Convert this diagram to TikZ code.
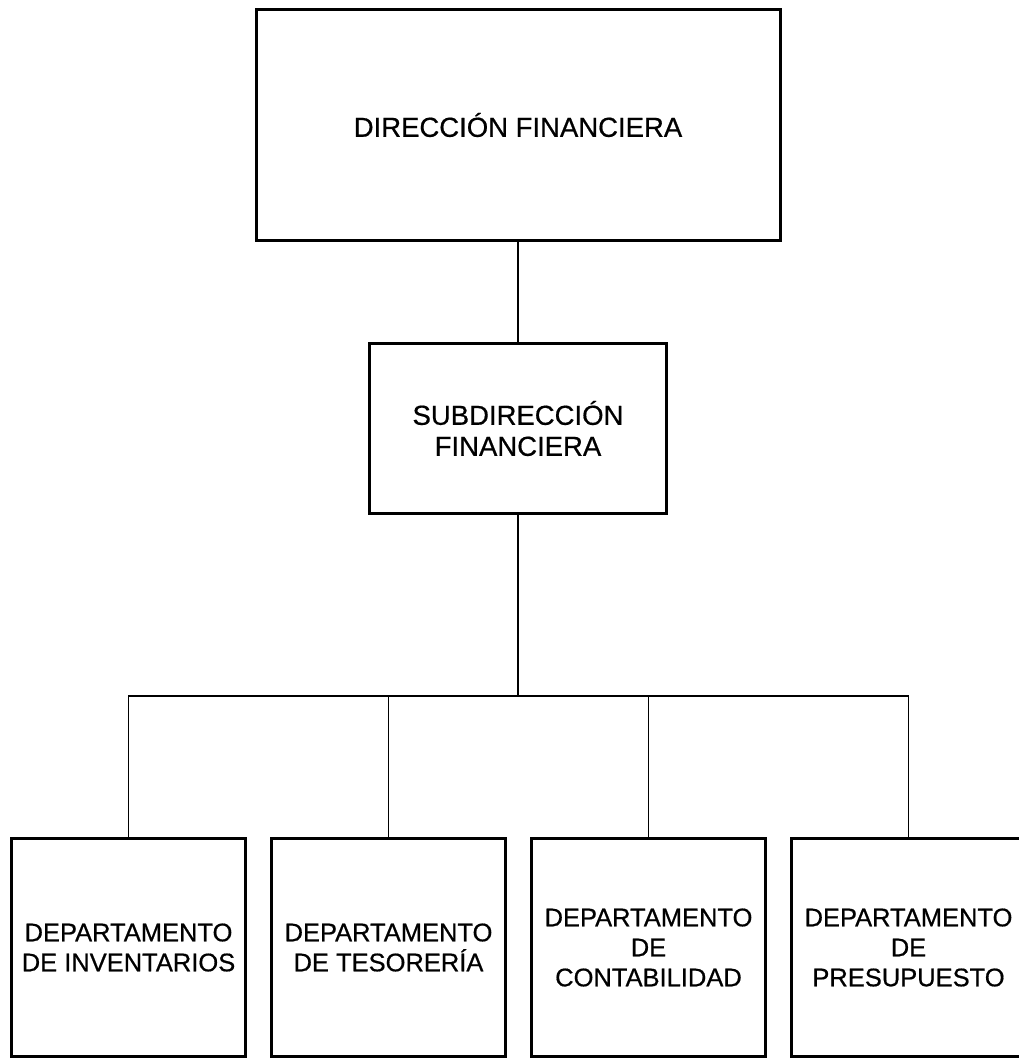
\documentclass[tikz,border=0pt]{standalone}
\usepackage{fontspec}
\setmainfont[FakeBold=0.6,BoldFont=Liberation Sans]{Liberation Sans}
\usetikzlibrary{positioning}

\begin{document}
\begin{tikzpicture}[x=1pt,y=1pt,node distance=260pt,auto]
  \tikzstyle{box}=[draw,line width=3pt,align=center,inner sep=0pt,font=\bfseries\fontsize{27.5}{31}\selectfont]
  \tikzstyle{dept}=[box,minimum width=234pt,minimum height=218pt,font=\bfseries\fontsize{25.5}{30}\selectfont]
  \tikzstyle{link}=[line width=1.6pt]
  \useasboundingbox (0,0) rectangle (1018,-1060);
  \node[box,minimum width=524pt,minimum height=231pt] (dir) at (518,-125) {DIRECCIÓN FINANCIERA};
  \node[box,minimum width=297pt,minimum height=170pt] (sub) [below of=dir,node distance=303.5pt] {SUBDIRECCIÓN\\FINANCIERA};
  \node[dept] (inv) at (128.5,-947.5) {DEPARTAMENTO\\DE INVENTARIOS};
  \node[dept] (tes) [right of=inv] {DEPARTAMENTO\\DE TESORERÍA};
  \node[dept] (con) [right of=tes] {DEPARTAMENTO\\DE\\CONTABILIDAD};
  \node[dept] (pre) [right of=con] {DEPARTAMENTO\\DE\\PRESUPUESTO};
  \coordinate (split) at (518,-696);
  \draw[link] (dir) -- (sub);
  \draw[link] (sub) -- (split);
  \draw[link] (split) -| (inv);
  \draw[link] (split) -| (tes);
  \draw[link] (split) -| (con);
  \draw[link] (split) -| (pre);
\end{tikzpicture}
\end{document}
